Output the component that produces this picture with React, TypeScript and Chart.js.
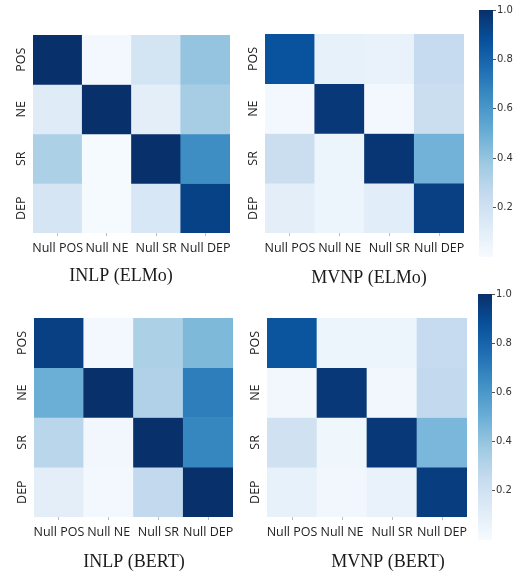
import React, { useEffect, useRef } from 'react';
import { Chart, registerables } from 'chart.js';

Chart.register(...registerables);

const columnLabels = ['Null POS', 'Null NE', 'Null SR', 'Null DEP'];
const rowLabels = ['POS', 'NE', 'SR', 'DEP'];
const colorbarTicks = [0.2, 0.4, 0.6, 0.8, 1.0];

const inlpElmo = [
  [1.0, 0.02, 0.18, 0.4],
  [0.12, 1.0, 0.1, 0.35],
  [0.33, 0.01, 1.0, 0.64],
  [0.17, 0.01, 0.16, 0.93],
];
const mvnpElmo = [
  [0.87, 0.08, 0.07, 0.25],
  [0.02, 0.97, 0.02, 0.23],
  [0.23, 0.05, 0.98, 0.48],
  [0.1, 0.05, 0.11, 0.94],
];
const inlpBert = [
  [0.94, 0.02, 0.33, 0.45],
  [0.5, 1.0, 0.32, 0.7],
  [0.29, 0.03, 1.0, 0.67],
  [0.1, 0.02, 0.26, 1.0],
];
const mvnpBert = [
  [0.86, 0.05, 0.05, 0.25],
  [0.03, 0.97, 0.03, 0.26],
  [0.2, 0.04, 0.97, 0.46],
  [0.08, 0.03, 0.07, 0.95],
];

const BLUES = ['#f7fbff', '#deebf7', '#c6dbef', '#9ecae1', '#6baed6', '#4292c6', '#2171b5', '#08519c', '#08306b'];

function hexToRgb(h: string) {
  return [parseInt(h.slice(1, 3), 16), parseInt(h.slice(3, 5), 16), parseInt(h.slice(5, 7), 16)];
}
function blues(v: number) {
  const c = Math.max(0, Math.min(1, v)) * (BLUES.length - 1);
  const i = Math.min(Math.floor(c), BLUES.length - 2);
  const t = c - i;
  const a = hexToRgb(BLUES[i]);
  const b = hexToRgb(BLUES[i + 1]);
  const m = a.map((x, k) => Math.round(x + (b[k] - x) * t));
  return `rgb(${m[0]},${m[1]},${m[2]})`;
}

const TICK_FONT = { family: 'Open Sans', size: 12.5 };
const TICK_COLOR = '#222';
const TITLE_SIZE = 18;
const X_H = 24;
const Y_W = 30;
const PAD_TOP = 20;

const PANELS = [
  { title: 'INLP (ELMo)', values: inlpElmo, area: [33, 35, 230, 233], titleX: 121, titleY: 276 },
  { title: 'MVNP (ELMo)', values: mvnpElmo, area: [265, 34, 464, 233], titleX: 369, titleY: 278 },
  { title: 'INLP (BERT)', values: inlpBert, area: [34, 318, 233, 517], titleX: 134, titleY: 562 },
  { title: 'MVNP (BERT)', values: mvnpBert, area: [267, 318, 467, 517], titleX: 388, titleY: 562 },
];

const COLORBARS = [
  { area: [479, 10, 493, 257] },
  { area: [478, 294, 492, 540] },
];

function Heatmap({ panel }: { panel: any }) {
  const ref = useRef<HTMLCanvasElement>(null);
  const [l, t, r, b] = panel.area;
  const canvasL = l - Y_W;
  const canvasR = 2 * panel.titleX - canvasL;
  const canvasW = canvasR - canvasL;
  const y2W = canvasR - r;
  const canvasT = t - PAD_TOP;
  const lh = TITLE_SIZE * 1.2;
  const titlePadTop = panel.titleY - b - X_H - lh / 2;
  const used = PAD_TOP + (b - t) + X_H + titlePadTop + lh;
  const canvasH = Math.ceil(used);
  const padBottom = canvasH - used;

  useEffect(() => {
    if (!ref.current) return;
    const datasets = rowLabels.map((_, ri) => ({
      data: columnLabels.map(() => [ri, ri + 1]),
      backgroundColor: panel.values[ri].map((v: number) => blues(v)),
      borderWidth: 0,
      barPercentage: 1,
      categoryPercentage: 1,
      grouped: false,
    }));
    const chart = new Chart(ref.current, {
      type: 'bar',
      data: { labels: columnLabels, datasets: datasets as any },
      options: {
        animation: false,
        responsive: false,
        devicePixelRatio: 1,
        layout: { padding: { top: PAD_TOP, left: 0, right: 0, bottom: padBottom } },
        plugins: {
          legend: { display: false },
          tooltip: { enabled: false },
          title: {
            display: true,
            text: panel.title,
            position: 'bottom',
            color: '#1a1a1a',
            font: { family: 'Liberation Serif', size: TITLE_SIZE, weight: 'normal' as any, lineHeight: 1.2 },
            padding: { top: titlePadTop, bottom: 0 },
          },
        },
        scales: {
          x: {
            offset: true,
            grid: { display: true, drawOnChartArea: false, offset: false, tickLength: 3, color: 'rgba(0,0,0,0.25)' },
            border: { display: false },
            ticks: { padding: 5, autoSkip: false, maxRotation: 0, minRotation: 0, font: TICK_FONT, color: TICK_COLOR },
            afterFit: (s: any) => { s.height = X_H; },
          },
          y: {
            type: 'linear',
            min: 0,
            max: rowLabels.length,
            reverse: true,
            position: 'left',
            grid: { display: false, drawTicks: false },
            border: { display: false },
            afterBuildTicks: (s: any) => { s.ticks = rowLabels.map((_, i) => ({ value: i + 0.5 })); },
            ticks: {
              autoSkip: false,
              minRotation: 90,
              maxRotation: 90,
              crossAlign: 'center',
              padding: 0,
              font: TICK_FONT,
              color: TICK_COLOR,
              callback: (v: any) => rowLabels[Math.floor(Number(v))],
            },
            afterFit: (s: any) => { s.width = Y_W; },
          },
          y2: {
            type: 'linear',
            position: 'right',
            display: true,
            grid: { display: false, drawTicks: false },
            border: { display: false },
            ticks: { display: false },
            afterFit: (s: any) => { s.width = y2W; },
          },
        },
      } as any,
    });
    return () => chart.destroy();
  }, []);

  return (
    <canvas
      ref={ref}
      width={canvasW}
      height={canvasH}
      style={{ position: 'absolute', left: canvasL, top: canvasT, width: canvasW, height: canvasH }}
    />
  );
}

function Colorbar({ bar }: { bar: any }) {
  const ref = useRef<HTMLCanvasElement>(null);
  const [l, t, r, b] = bar.area;
  const canvasL = 470;
  const canvasT = t - 10;
  const canvasW = 56;
  const canvasH = 270;
  const yW = canvasL + canvasW - r;

  useEffect(() => {
    if (!ref.current) return;
    const chart = new Chart(ref.current, {
      type: 'bar',
      data: {
        labels: [''],
        datasets: [
          {
            data: [[0, 1]],
            borderWidth: 0,
            barPercentage: 1,
            categoryPercentage: 1,
            backgroundColor: (c: any) => {
              const area = c.chart.chartArea;
              if (!area) return 'rgba(0,0,0,0)';
              const g = c.chart.ctx.createLinearGradient(0, area.bottom, 0, area.top);
              BLUES.forEach((col, i) => g.addColorStop(i / (BLUES.length - 1), col));
              return g;
            },
          },
        ] as any,
      },
      options: {
        animation: false,
        responsive: false,
        devicePixelRatio: 1,
        layout: { padding: { left: l - canvasL, top: t - canvasT, right: 0, bottom: canvasT + canvasH - b } },
        plugins: { legend: { display: false }, tooltip: { enabled: false } },
        scales: {
          x: { display: false, offset: true },
          y: {
            position: 'right',
            min: 0,
            max: 1,
            grid: { display: true, drawOnChartArea: false, tickLength: 3, color: '#555' },
            border: { display: false },
            afterBuildTicks: (s: any) => { s.ticks = colorbarTicks.map((v) => ({ value: v })); },
            ticks: {
              padding: 1,
              font: { family: 'DejaVu Sans', size: 10 },
              color: '#333',
              callback: (v: any) => Number(v).toFixed(1),
            },
            afterFit: (s: any) => { s.width = yW; },
          },
        },
      } as any,
    });
    return () => chart.destroy();
  }, []);

  return (
    <canvas
      ref={ref}
      width={canvasW}
      height={canvasH}
      style={{ position: 'absolute', left: canvasL, top: canvasT, width: canvasW, height: canvasH }}
    />
  );
}

export default function App() {
  return (
    <div style={{ position: 'absolute', left: 0, top: 0, width: 526, height: 574, overflow: 'hidden', background: '#fff' }}>
      {PANELS.map((p, i) => (
        <Heatmap key={i} panel={p} />
      ))}
      {COLORBARS.map((c, i) => (
        <Colorbar key={i} bar={c} />
      ))}
    </div>
  );
}
